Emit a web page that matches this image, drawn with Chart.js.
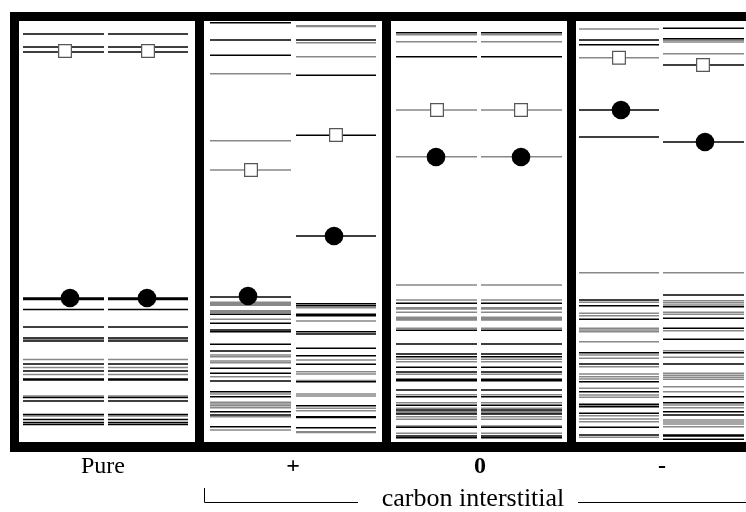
<!DOCTYPE html>
<html>
<head>
<meta charset="utf-8">
<script src="https://cdn.jsdelivr.net/npm/chart.js@4.4.0/dist/chart.umd.min.js"></script>
<style>
  html, body { margin: 0; padding: 0; background: #fff; }
</style>
</head>
<body>
<canvas class="js-chart" width="746" height="512"></canvas>
<script>
// energy levels (arbitrary units, larger = deeper), per column, black and grey lines
const pureBlack = [34, 47, 52, 298, 299.5, 309.5, 327, 338, 341, 364, 371, 379, 380, 397.5, 401, 414.5, 419.5, 422.5, 424.5];
const pureGray = [339.5, 359.5, 367.5, 374.5, 396, 416];

const plusABlack = [22.7, 40, 55.3, 297, 314.3, 323.3, 330, 331.7, 344.3, 351, 368.3, 373.3, 381, 391.7, 396.7, 411.7, 415, 426.7];
const plusAGray = [73.7, 140.7, 170, 302.3, 303.7, 305.3, 310.7, 312.3, 319.3, 355, 356.7, 361, 362.7, 376.7, 394, 402.3, 404, 405.7, 407.7, 416.7, 430];
const plusBBlack = [40, 75.3, 135.3, 236, 303.7, 305.7, 314.3, 315.7, 331.7, 334, 348.3, 355.7, 364.3, 381.7, 405.7, 416.7, 417.5, 427.7];
const plusBGray = [25.7, 26.5, 42.7, 56.7, 307.7, 321, 360, 371.7, 374, 380.5, 394, 396, 408.3, 410.7, 431.7, 432.5];

const neutralBlack = [32.7, 56.7, 303.3, 330.3, 344, 354, 356.7, 367.3, 372, 379.3, 380.7, 390, 396.7, 405.3, 410, 414, 427.3, 436, 437.7];
const neutralGray = [34.7, 41.7, 110, 156.7, 285, 300, 307.7, 309, 312.3, 317.3, 318.5, 320, 328.3, 359.3, 361.7, 374.3, 394.7, 402.7, 408.3, 411.5, 413, 416.7, 419.3, 426, 433.3];

const minusABlack = [40, 44.7, 110, 137, 300, 305.7, 319.3, 352.7, 364, 381.7, 391.7, 404.3, 406.7, 413.3, 427.3, 435];
const minusAGray = [29, 57.7, 272.7, 302.3, 313.3, 315.7, 328.3, 330, 331.7, 341.7, 355, 358.3, 366.7, 374, 376.7, 379, 388.3, 395, 397.3, 405.5, 415.7, 419, 421.7, 437.3];
const minusBBlack = [28.3, 38.7, 65, 142, 295, 306.7, 318.3, 328.3, 339.3, 352.7, 364, 396.7, 402.7, 411.7, 415, 435, 436, 439.3];
const minusBGray = [40.3, 42, 53.7, 272.7, 300.7, 302.7, 305, 312.3, 314.3, 330.7, 350.7, 357.3, 373.3, 375.3, 377.3, 379.3, 386.7, 391.7, 405, 407.7, 420, 422, 424, 426.7];

// marked states: open square and filled circle in each column
const squareX = [65, 148, 251, 336, 437, 521, 619, 703];
const squareY = [51, 51, 170, 135, 110, 110, 57.7, 65];
const circleX = [70, 147, 248, 334, 436, 521, 621, 705];
const circleY = [298, 298, 296, 236, 157, 157, 110, 142];

// column extents and panels
const colStart = [23, 108, 210, 296, 396, 481, 579, 663];
const colEnd = [104, 188, 291, 376, 477, 562, 659, 744];
const panelLeft = [19, 204, 391, 576];
const panelRight = [195, 382, 567, 746];

const groupLabels = ["Pure", "+", "0", "-"];
const groupCenters = [103, 293, 480, 662];
const bracketText = "carbon interstitial";

const columns = [
  { black: pureBlack, gray: pureGray },
  { black: pureBlack, gray: pureGray },
  { black: plusABlack, gray: plusAGray },
  { black: plusBBlack, gray: plusBGray },
  { black: neutralBlack, gray: neutralGray },
  { black: neutralBlack, gray: neutralGray },
  { black: minusABlack, gray: minusAGray },
  { black: minusBBlack, gray: minusBGray },
];

const ctx = document.querySelector(".js-chart").getContext("2d");
const serif = "'Liberation Serif', 'Times New Roman', serif";

function levelData(levels, i) {
  const pts = [];
  levels.forEach((e) => {
    pts.push({ x: colStart[i], y: e }, { x: colEnd[i], y: e }, { x: colEnd[i], y: null });
  });
  return pts;
}

const datasets = [
  {
    label: "squares",
    data: squareX.map((x, i) => ({ x: x, y: squareY[i] })),
    showLine: false,
    pointStyle: "rect",
    pointRadius: 9,
    pointBackgroundColor: "#fff",
    pointBorderColor: "#555",
    pointBorderWidth: 1.2,
    order: 0,
  },
  {
    label: "circles",
    data: circleX.map((x, i) => ({ x: x, y: circleY[i] })),
    showLine: false,
    pointStyle: "circle",
    pointRadius: 9.3,
    pointBackgroundColor: "#000",
    pointBorderColor: "#000",
    pointBorderWidth: 0,
    order: 0,
  },
];

columns.forEach((col, i) => {
  datasets.push({
    data: levelData(col.black, i),
    borderColor: "#000",
    borderWidth: 1.5,
    pointRadius: 0,
    spanGaps: false,
    order: 1,
  });
  datasets.push({
    data: levelData(col.gray, i),
    borderColor: "#888",
    borderWidth: 1.5,
    pointRadius: 0,
    spanGaps: false,
    order: 2,
  });
});

const framePlugin = {
  id: "frame",
  beforeDatasetsDraw(chart) {
    const { ctx, chartArea: a, scales: { x } } = chart;
    ctx.save();
    ctx.fillStyle = "#000";
    const left = x.getPixelForValue(10);
    ctx.fillRect(left, a.top - 9, x.getPixelForValue(746) - left, a.bottom - a.top + 19);
    ctx.fillStyle = "#fff";
    panelLeft.forEach((l, i) => {
      const pl = x.getPixelForValue(l);
      ctx.fillRect(pl, a.top, x.getPixelForValue(panelRight[i]) - pl, a.bottom - a.top);
    });
    ctx.restore();
  },
  afterDraw(chart) {
    const { ctx, chartArea: a, scales: { x } } = chart;
    const yLine = a.bottom + 60.5;
    ctx.save();
    ctx.strokeStyle = "#000";
    ctx.lineWidth = 1;
    ctx.beginPath();
    ctx.moveTo(x.getPixelForValue(204.5), a.bottom + 46);
    ctx.lineTo(x.getPixelForValue(204.5), yLine);
    ctx.lineTo(x.getPixelForValue(358), yLine);
    ctx.moveTo(x.getPixelForValue(578), yLine);
    ctx.lineTo(x.getPixelForValue(746), yLine);
    ctx.stroke();
    ctx.fillStyle = "#000";
    ctx.font = "26px " + serif;
    ctx.textAlign = "center";
    ctx.textBaseline = "alphabetic";
    ctx.fillText(bracketText, x.getPixelForValue(473), a.bottom + 64);
    ctx.restore();
  },
};

new Chart(ctx, {
  type: "line",
  data: { datasets: datasets },
  options: {
    responsive: false,
    animation: false,
    events: [],
    layout: { autoPadding: false, padding: { top: 21, left: 0, right: 0, bottom: 0 } },
    plugins: { legend: { display: false }, tooltip: { enabled: false } },
    scales: {
      x: {
        type: "linear",
        min: 0,
        max: 746,
        grid: { display: false, drawTicks: false },
        border: { display: false },
        afterBuildTicks: (s) => {
          s.ticks = groupCenters.map((v) => ({ value: v }));
        },
        afterFit: (s) => {
          s.height = 70;
        },
        ticks: {
          autoSkip: false,
          maxRotation: 0,
          padding: 10,
          color: "#000",
          font: (c) => ({ family: serif, size: 24, weight: c.index === 0 ? "normal" : "bold" }),
          callback: (v, i) => groupLabels[i],
        },
      },
      y: {
        type: "linear",
        display: false,
        reverse: true,
        min: 21,
        max: 442,
      },
    },
  },
  plugins: [framePlugin],
});
</script>
</body>
</html>
